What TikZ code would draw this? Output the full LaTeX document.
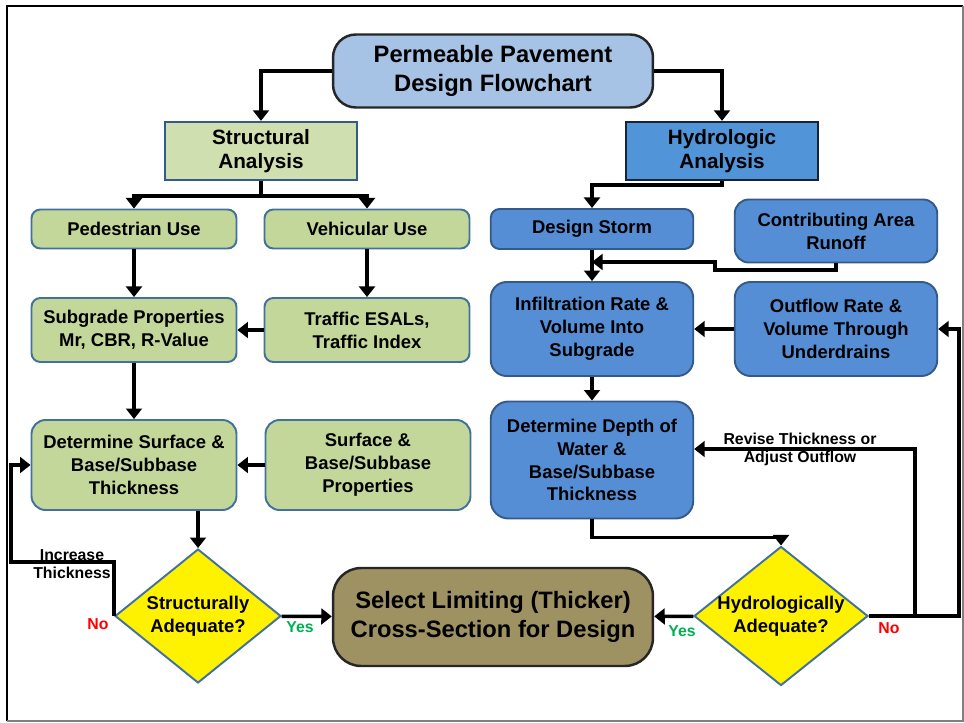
\documentclass[tikz,border=0pt]{standalone}
\usepackage{fontspec}
\setmainfont{Liberation Sans}
\usetikzlibrary{arrows.meta,shapes.geometric,positioning}
\definecolor{gfill}{RGB}{196,215,155}
\definecolor{gedge}{RGB}{65,113,156}
\definecolor{bfill}{RGB}{85,142,213}
\definecolor{bedge}{RGB}{52,90,138}
\definecolor{tfill}{RGB}{166,195,230}
\definecolor{sfill}{RGB}{158,145,98}
\definecolor{yesgreen}{RGB}{0,176,80}
\tikzset{
    gbox/.style={
    rectangle,rounded corners=5pt,draw=gedge,fill=gfill,line width=1.1pt,minimum width=4.1cm,
    align=center,font=\bfseries\fontsize{10.5}{13}\selectfont
    },
    bbox/.style={
    rectangle,rounded corners=5pt,draw=bedge,fill=bfill,line width=1.1pt,minimum width=4.05cm,
    align=center,font=\bfseries\fontsize{10.5}{13}\selectfont
    },
    head/.style={
    rectangle,line width=1.3pt,minimum width=3.83cm,minimum height=1.16cm,
    align=center,font=\bfseries\fontsize{11.8}{14}\selectfont
    },
    big/.style={
    rectangle,line width=1.4pt,draw=black!85,minimum width=6.4cm,
    align=center,font=\bfseries\fontsize{13.5}{16.3}\selectfont
    },
    ask/.style={
    diamond,draw=gedge,fill=yellow,line width=1.1pt,inner sep=-4pt,minimum height=2.68cm,
    align=center,font=\bfseries\fontsize{10.5}{13}\selectfont
    },
    lbl/.style={
    align=center,inner sep=0pt,font=\bfseries\fontsize{9}{10.3}\selectfont
    },
    link/.style={
    ->,line width=2pt
    },
}

\begin{document}
\begin{tikzpicture}[x=0.02cm, y=-0.02cm, >={Triangle[width=9pt,length=6pt]}]
   \useasboundingbox (0,0) rectangle (964,723);
   \draw[line width=1.2pt] (7,721) |- (963,6);
   \draw[line width=0.6pt,black!50] (7,721) -| (963,6);

   \node[big,rounded corners=13pt,fill=tfill,minimum height=1.46cm] (top) at (493,71) {Permeable Pavement\\Design Flowchart};
   \node[head,draw=bedge,fill=gfill!80!white] (sa) at (261,151) {Structural\\Analysis};
   \node[head,draw=black!60!bedge,fill=bfill!95!cyan] (ha) at (722,151) {Hydrologic\\Analysis};

   % structural side
   \node[gbox,minimum height=0.78cm] (ped) at (134,229) {Pedestrian Use};
   \node[gbox,minimum height=0.78cm] (veh) at (367,229) {Vehicular Use};
   \node[gbox,minimum height=1.28cm] (sub) at (134,330) {Subgrade Properties\\Mr, CBR, R-Value};
   \node[gbox,minimum height=1.28cm] (tra) at (367,330) {Traffic ESALs,\\Traffic Index};
   \node[gbox,rounded corners=8pt,minimum height=1.8cm] (ds) at (134,465) {Determine Surface \&\\Base/Subbase\\Thickness};
   \node[gbox,rounded corners=8pt,minimum height=1.8cm] (sp) at (368,465) {Surface \&\\Base/Subbase\\Properties};
   \node[ask,minimum width=3.32cm] (sd) at (198,616) {Structurally\\Adequate?};

   % hydrologic side
   \node[bbox,minimum height=0.8cm] (dst) at (592,229) {Design Storm};
   \node[bbox,rounded corners=8pt,minimum height=1.26cm] (car) at (836,231) {Contributing Area\\Runoff};
   \node[bbox,rounded corners=9pt,minimum height=1.88cm] (inf) at (592,329) {Infiltration Rate \&\\Volume Into\\Subgrade};
   \node[bbox,rounded corners=9pt,minimum height=1.88cm] (out) at (836,329) {Outflow Rate \&\\Volume Through\\Underdrains};
   \node[bbox,rounded corners=10pt,minimum height=2.34cm] (dd) at (592,460) {Determine Depth of\\Water \&\\Base/Subbase\\Thickness};
   \node[ask,minimum width=3.48cm] (hd) at (781,616) {Hydrologically\\Adequate?};

   \node[big,rounded corners=16pt,fill=sfill,minimum height=1.96cm] (sel) at (493,617) {Select Limiting (Thicker)\\Cross-Section for Design};

   \node[lbl] (inc) at (72,564) {Increase\\Thickness};
   \node[lbl] (rev) at (800,449) {Revise Thickness or\\Adjust Outflow};
   \node[lbl,text=red] (no1) at (98,624) {No};
   \node[lbl,text=yesgreen] (yes1) at (300,627) {Yes};
   \node[lbl,text=yesgreen] (yes2) at (682,631) {Yes};
   \node[lbl,text=red] (no2) at (889,628) {No};

   \coordinate (cj) at (592,262);
   \coordinate (rj) at (959,616);

   \path[link]
    (ped) edge (sub)
    (veh) edge (tra)
    (tra) edge (sub)
    (sub) edge (ds)
    (sp) edge (ds)
    (dst) edge (inf)
    (out) edge (inf)
    (inf) edge (dd)
    (sd) edge (sel)
    (hd) edge (sel);

   \draw[link] (top.west) -| (sa.north);
   \draw[link] (top.east) -| (ha.north);
   \draw[link] (sa.south) -- ++(0,15) -| (ped.north);
   \draw[link] (sa.south) -- ++(0,15) -| (veh.north);
   \draw[link] (ha.south) -- ++(0,4) -| (dst.north);
   \draw[link] (car.south) |- (715,270) |- (cj);
   \draw[link] (sd.north |- ds.south) -- (sd.north);
   \draw[link] (sd.west) |- (11,562) |- (ds.west);
   \draw[link] (dd.south) -- ++(0,18) -| (hd.north);
   \draw[link] (hd.east) -- (rj) |- (out.east);
   \draw[link] (915,616) |- ([yshift=0.22cm]dd.east);
  \end{tikzpicture}
\end{document}
